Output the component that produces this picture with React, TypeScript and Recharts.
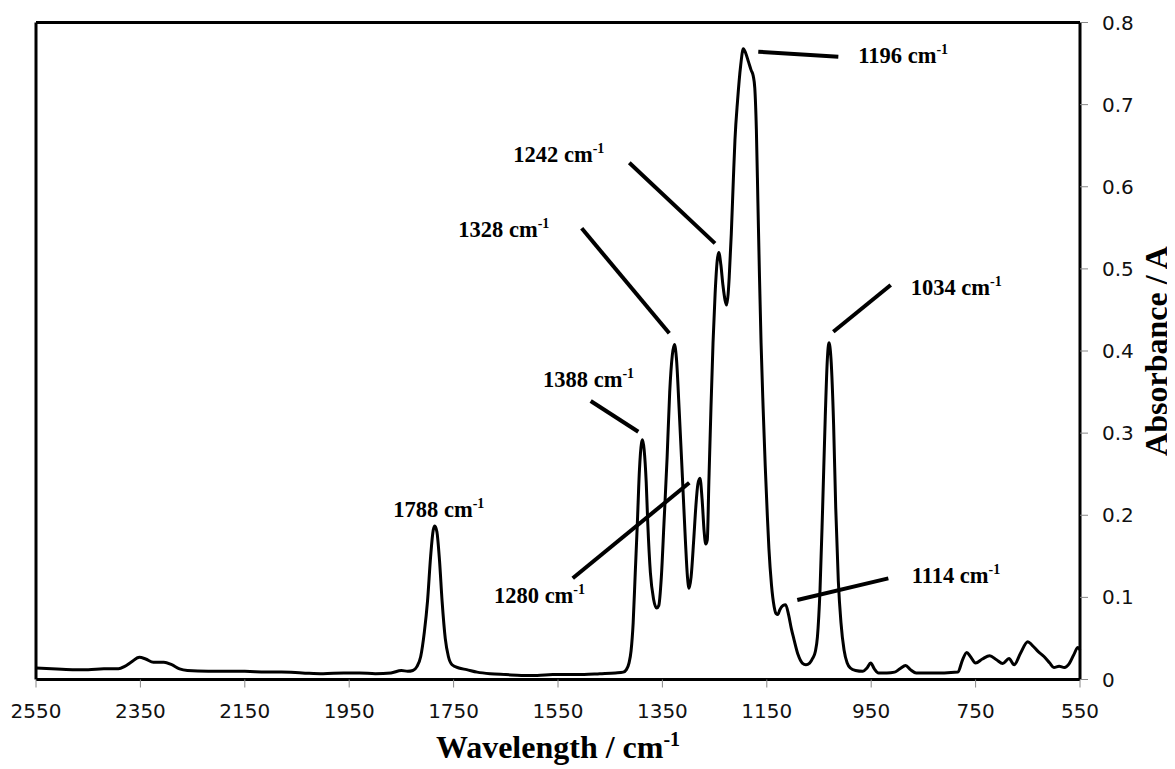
import React from 'react';
import { LineChart, Line, XAxis, YAxis, ReferenceLine, ReferenceDot } from 'recharts';

// wavenumber (cm-1) from left to right
const WAVENUMBER = [
  2550, 2520, 2480, 2450, 2420, 2392, 2380, 2368, 2352, 2340, 2325, 2305, 2290, 2275, 2260, 2220,
  2180, 2150, 2110, 2080, 2040, 2000, 1960, 1930, 1900, 1870, 1850, 1838, 1828, 1820, 1813, 1806,
  1800, 1794, 1789, 1786, 1782, 1777, 1772, 1766, 1760, 1753, 1740, 1725, 1705, 1680, 1650, 1620,
  1590, 1560, 1530, 1500, 1470, 1440, 1425, 1419, 1414, 1410, 1406, 1402, 1398, 1394, 1390, 1388,
  1385, 1381, 1378, 1373, 1367, 1361, 1357, 1352, 1347, 1341, 1336, 1331, 1327, 1323, 1318, 1312,
  1306, 1302, 1299, 1295, 1290, 1286, 1282, 1278, 1274, 1270, 1267, 1264, 1261, 1257, 1253, 1249,
  1245, 1242, 1238, 1234, 1230, 1227, 1224, 1222, 1218, 1214, 1211, 1206, 1200, 1195, 1190, 1185,
  1180, 1176, 1173, 1170, 1167, 1164, 1161, 1157, 1153, 1149, 1146, 1141, 1136, 1132, 1129, 1125,
  1119, 1114, 1108, 1103, 1098, 1090, 1082, 1075, 1068, 1062, 1057, 1053, 1048, 1043, 1038, 1034,
  1031, 1027, 1022, 1018, 1013, 1008, 1002, 996, 990, 980, 966, 958, 951, 944, 936, 920,
  905, 895, 884, 875, 864, 840, 810, 784, 775, 767, 760, 750, 737, 723, 710, 698,
  686, 676, 664, 650, 642, 630, 619, 608, 600, 590, 580, 570, 562, 554, 550,
];

// absorbance (A) at each wavenumber above
const ABSORBANCE = [
  0.014, 0.013, 0.012, 0.012, 0.013, 0.013, 0.016, 0.021, 0.027, 0.025, 0.021, 0.021, 0.018, 0.013, 0.011, 0.010,
  0.010, 0.010, 0.009, 0.009, 0.008, 0.007, 0.008, 0.008, 0.007, 0.008, 0.011, 0.010, 0.011, 0.016, 0.028, 0.058,
  0.095, 0.150, 0.182, 0.187, 0.180, 0.145, 0.095, 0.050, 0.028, 0.018, 0.014, 0.012, 0.009, 0.007, 0.006, 0.005,
  0.005, 0.006, 0.006, 0.006, 0.007, 0.008, 0.009, 0.012, 0.020, 0.035, 0.069, 0.130, 0.190, 0.255, 0.288, 0.292,
  0.280, 0.240, 0.190, 0.130, 0.098, 0.087, 0.090, 0.125, 0.190, 0.270, 0.350, 0.395, 0.408, 0.390, 0.330, 0.251,
  0.170, 0.125, 0.111, 0.125, 0.170, 0.210, 0.238, 0.245, 0.220, 0.180, 0.165, 0.170, 0.240, 0.330, 0.410, 0.470,
  0.510, 0.520, 0.505, 0.480, 0.462, 0.456, 0.470, 0.490, 0.543, 0.610, 0.657, 0.705, 0.748, 0.768, 0.762, 0.752,
  0.742, 0.735, 0.720, 0.670, 0.580, 0.490, 0.410, 0.330, 0.260, 0.200, 0.160, 0.115, 0.089, 0.080, 0.079, 0.085,
  0.090, 0.091, 0.078, 0.062, 0.049, 0.030, 0.020, 0.018, 0.020, 0.026, 0.034, 0.052, 0.110, 0.210, 0.320, 0.390,
  0.410, 0.390, 0.310, 0.210, 0.120, 0.070, 0.036, 0.020, 0.014, 0.011, 0.010, 0.014, 0.020, 0.013, 0.008, 0.008,
  0.009, 0.013, 0.017, 0.012, 0.008, 0.008, 0.008, 0.009, 0.024, 0.033, 0.028, 0.020, 0.025, 0.029, 0.024, 0.0195,
  0.0255, 0.018, 0.032, 0.046, 0.042, 0.034, 0.028, 0.020, 0.0146, 0.016, 0.0146, 0.020, 0.030, 0.039, 0.036,
];

const X_TICKS = [2550, 2350, 2150, 1950, 1750, 1550, 1350, 1150, 950, 750, 550];
const Y_TICKS = [0, 0.1, 0.2, 0.3, 0.4, 0.5, 0.6, 0.7, 0.8];

// peak annotations: label text, text anchor (data coords) and leader line end points
const PEAK_NAMES = ['1196', '1242', '1328', '1388', '1788', '1280', '1034', '1114'];
const ANNOTATIONS = [
  { tx: 974.7, ty: 0.7503, line: [1166.3, 0.7644, 1013, 0.7584] },
  { tx: 1635.6, ty: 0.6305, line: [1413.4, 0.6293, 1249.2, 0.5311] },
  { tx: 1741, ty: 0.5392, line: [1504.6, 0.5494, 1336.8, 0.4216] },
  { tx: 1578.7, ty: 0.3565, line: [1487.4, 0.3391, 1396.2, 0.3017] },
  { tx: 1865.5, ty: 0.1982, line: null },
  { tx: 1672.6, ty: 0.0928, line: [1521.8, 0.1232, 1298.5, 0.2396] },
  { tx: 874.3, ty: 0.4682, line: [1022.6, 0.4235, 912.6, 0.4804] },
  { tx: 872.4, ty: 0.1171, line: [1091.6, 0.0968, 917.2, 0.1232] },
];

const data = WAVENUMBER.map((w, i) => ({ w, a: ABSORBANCE[i] }));

const SERIF = '"Liberation Serif", "Times New Roman", serif';
const SANS = '"DejaVu Sans", Verdana, sans-serif';

const PeakText = ({ cx, cy, name }: { cx: number; cy: number; name: string }) => (
  <text x={cx} y={cy} fontFamily={SERIF} fontWeight="bold" fontSize={22.5} fill="#000">
    {name} cm
    <tspan dy={-9} fontSize={14}>-1</tspan>
  </text>
);

const XTitle = () => (
  <text x={550} y={749.5} textAnchor="middle" fontFamily={SERIF} fontWeight="bold" fontSize={32} fill="#000">
    Wavelength / cm
    <tspan dy={-12} fontSize={20}>-1</tspan>
  </text>
);

const YTitle = () => (
  <text x={1159} y={343} transform="rotate(-90, 1159, 343)" textAnchor="middle" fontFamily={SERIF} fontWeight="bold" fontSize={32} fill="#000">
    Absorbance / A
  </text>
);

const App: React.FC = () => {
  return (
    <div style={{ width: 1167, height: 761, background: '#fff' }}>
      <LineChart width={1167} height={761} data={data} margin={{ top: 14.5, right: 15, bottom: 29.5, left: 28 }} style={{ overflow: 'visible' }}>
        <XAxis
          dataKey="w"
          type="number"
          domain={[550, 2550]}
          reversed
          ticks={X_TICKS}
          interval={0}
          height={60}
          axisLine={{ stroke: '#000', strokeWidth: 3 }}
          tickLine={{ stroke: '#888', strokeWidth: 1 }}
          tickSize={8}
          tickMargin={16}
          tick={{ fontFamily: SANS, fontSize: 20, fill: '#111' }}
          label={XTitle}
        />
        <YAxis
          orientation="right"
          type="number"
          domain={[0, 0.8]}
          ticks={Y_TICKS}
          interval={0}
          width={80}
          axisLine={{ stroke: '#000', strokeWidth: 3 }}
          tickLine={{ stroke: '#888', strokeWidth: 1 }}
          tickSize={8}
          tickMargin={14}
          tick={{ fontFamily: SANS, fontSize: 20, fill: '#111', textAnchor: 'start' }}
          label={YTitle}
        />
        <ReferenceLine y={0.8} stroke="#000" strokeWidth={3} />
        <ReferenceLine x={2550} stroke="#000" strokeWidth={3} />
        <Line
          type="monotone"
          dataKey="a"
          stroke="#000"
          strokeWidth={3}
          dot={false}
          activeDot={false}
          isAnimationActive={false}
        />
        {ANNOTATIONS.map((an, i) =>
          an.line ? (
            <ReferenceLine
              key={`ln-${i}`}
              segment={[
                { x: an.line[0], y: an.line[1] },
                { x: an.line[2], y: an.line[3] },
              ]}
              stroke="#000"
              strokeWidth={4}
            />
          ) : null
        )}
        {ANNOTATIONS.map((an, i) => (
          <ReferenceDot
            key={`lb-${i}`}
            x={an.tx}
            y={an.ty}
            r={0}
            shape={(p: any) => <PeakText cx={p.cx} cy={p.cy} name={PEAK_NAMES[i]} />}
          />
        ))}
      </LineChart>
    </div>
  );
};

export default App;
